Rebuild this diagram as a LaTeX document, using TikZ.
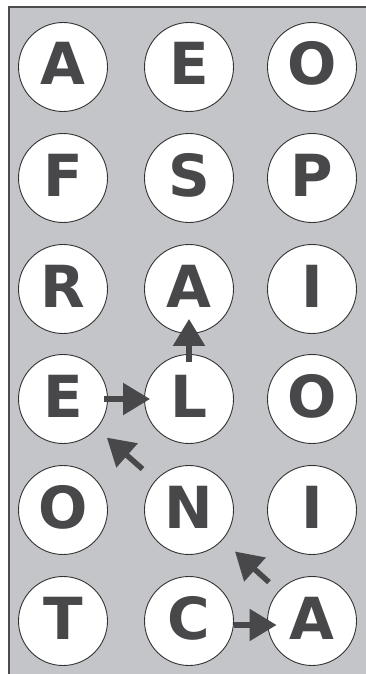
\documentclass[tikz,border=0pt]{standalone}
\usepackage{fontspec}
\setmainfont{DejaVu Sans}
\usetikzlibrary{arrows.meta}
\definecolor{ink}{RGB}{72,72,74}
\definecolor{tray}{RGB}{196,197,200}
\tikzset{
  tile/.style={circle, draw=black!80, line width=0.9pt, fill=white, minimum size=89pt, inner sep=0pt,
    text=ink, font=\bfseries\fontsize{58}{58}\selectfont, text height=42pt, text depth=6pt},
  move/.style={draw=ink, line width=5.5pt, -{Triangle[length=27pt,width=31pt]}}
}
\begin{document}
\begin{tikzpicture}[x=1pt,y=-1pt]
\useasboundingbox (0,0) rectangle (366,674);
\draw[fill=tray, draw=black!70, line width=1.4pt] (9,7) rectangle (380,690);
% letter grid
\node[tile] (r1c1) at (63,67) {A};
\node[tile] (r1c2) at (189,67) {E};
\node[tile] (r1c3) at (312,67) {O};
\node[tile] (r2c1) at (63,178) {F};
\node[tile] (r2c2) at (189,178) {S};
\node[tile] (r2c3) at (312,178) {P};
\node[tile] (r3c1) at (63,289) {R};
\node[tile] (r3c2) at (189,289) {A};
\node[tile] (r3c3) at (312,289) {I};
\node[tile] (r4c1) at (63,399) {E};
\node[tile] (r4c2) at (189,399) {L};
\node[tile] (r4c3) at (312,399) {O};
\node[tile] (r5c1) at (63,510) {O};
\node[tile] (r5c2) at (189,510) {N};
\node[tile] (r5c3) at (312,510) {I};
\node[tile] (r6c1) at (63,621) {T};
\node[tile] (r6c2) at (189,621) {C};
\node[tile] (r6c3) at (312,621) {A};
% path through the word
\draw[move, shorten >=-9.5pt] ([yshift=-4pt]r6c2.east) -- ([yshift=-4pt]r6c3.west);
\draw[move, shorten <=13pt, shorten >=17pt] (r6c3) -- (r5c2);
\draw[move, shorten <=17pt, shorten >=13.5pt] (r5c2) -- (r4c1);
\draw[move, shorten <=-4pt, shorten >=-6pt] (r4c1.east) -- (r4c2.west);
\draw[move, shorten <=-7.5pt, shorten >=-15pt] (r4c2.north) -- (r3c2.south);
\end{tikzpicture}
\end{document}
